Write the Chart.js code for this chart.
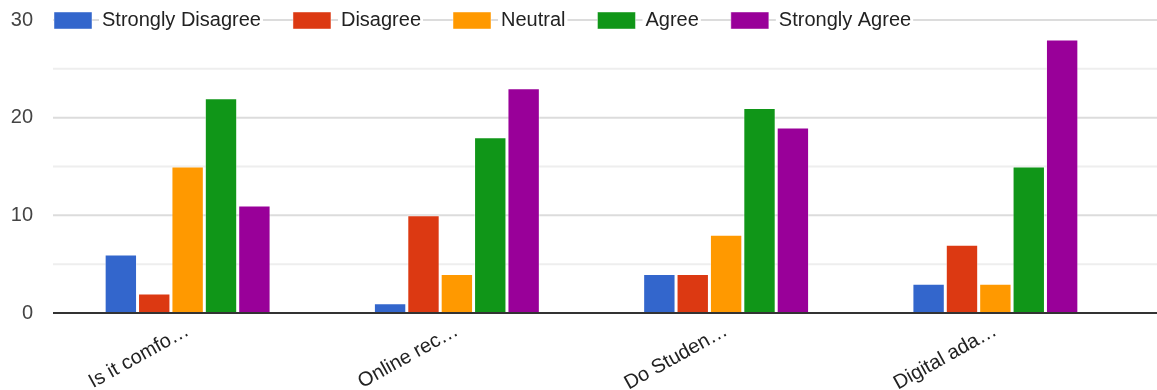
<!DOCTYPE html>
<html>
<head>
<meta charset="utf-8">
<script src="https://cdn.jsdelivr.net/npm/chart.js@4"></script>
<style>
  html, body { margin: 0; padding: 0; background: #fff; }
  #wrap { position: relative; width: 1157px; height: 390px; }
</style>
</head>
<body>
<div id="wrap"><canvas id="survey"></canvas></div>
<script>
// Survey responses per question (truncated question labels)
const questions = ['Is it comfo\u2026', 'Online rec\u2026', 'Do Studen\u2026', 'Digital ada\u2026'];

const stronglyDisagree = [6, 1, 4, 3];
const disagree         = [2, 10, 4, 7];
const neutral          = [15, 4, 8, 3];
const agree            = [22, 18, 21, 15];
const stronglyAgree    = [11, 23, 19, 28];

const seriesNames  = ['Strongly Disagree', 'Disagree', 'Neutral', 'Agree', 'Strongly Agree'];
const seriesColors = ['#3366cc', '#dc3912', '#ff9900', '#109618', '#990099'];

const yTicks = [0, 10, 20, 30];

const FONT = 'Arial, "Liberation Sans", sans-serif';

// Horizontal grid spanning the full canvas width, drawn from the y scale,
// plus white patches behind legend text so the top line stops around it.
const gridAndLegendBg = {
  id: 'gridAndLegendBg',
  afterLayout(chart) {
    const lg = chart.legend;
    if (lg) {
      lg.left = 22;
      lg.top = chart.chartArea.top - 41.5;
      lg.height = 90;
      lg.bottom = lg.top + lg.height;
      lg.right = chart.width;
      lg.width = lg.right - lg.left;
    }
  },
  beforeDraw(chart) {
    const ctx = chart.ctx;
    const y = chart.scales.y;
    const left = chart.chartArea.left;
    const right = chart.width;
    ctx.save();
    ctx.lineWidth = 2;
    y.ticks.forEach(t => {
      if (t.value === 0) return;
      const py = y.getPixelForValue(t.value);
      ctx.strokeStyle = (t.value % 10 === 0) ? '#dcdcdc' : '#eeeeee';
      ctx.beginPath();
      ctx.moveTo(left, py);
      ctx.lineTo(right, py);
      ctx.stroke();
    });
    const lg = chart.legend;
    if (lg && lg.legendHitBoxes) {
      const bw = lg.options.labels.boxWidth;
      ctx.fillStyle = '#ffffff';
      lg.legendHitBoxes.forEach(hb => {
        ctx.fillRect(hb.left + bw + 7, hb.top - 1, hb.width - bw - 5, hb.height + 2);
      });
    }
    ctx.restore();
  },
  afterDatasetsDraw(chart) {
    const ctx = chart.ctx;
    const y = chart.scales.y;
    const py = y.getPixelForValue(0);
    ctx.save();
    ctx.strokeStyle = '#333333';
    ctx.lineWidth = 2;
    ctx.beginPath();
    ctx.moveTo(chart.chartArea.left, py);
    ctx.lineTo(chart.width, py);
    ctx.stroke();
    ctx.restore();
  }
};

const values = [stronglyDisagree, disagree, neutral, agree, stronglyAgree];

new Chart(document.getElementById('survey'), {
  type: 'bar',
  data: {
    labels: questions,
    datasets: seriesNames.map((name, i) => ({
      label: name,
      data: values[i],
      backgroundColor: seriesColors[i],
      borderColor: 'rgba(255,255,255,0.45)',
      borderWidth: 1,
      categoryPercentage: 0.62,
      barPercentage: 0.97
    }))
  },
  options: {
    responsive: true,
    maintainAspectRatio: false,
    animation: false,
    layout: { padding: { top: 19, right: 27, bottom: 0, left: 0 } },
    plugins: {
      tooltip: { enabled: false },
      legend: {
        position: 'top',
        align: 'start',
        maxHeight: 1,
        labels: {
          boxWidth: 38,
          boxHeight: 17,
          padding: 32,
          color: '#222222',
          font: { family: FONT, size: 20 }
        }
      }
    },
    scales: {
      x: {
        grid: { display: false },
        border: { display: false },
        ticks: {
          color: '#222222',
          font: { family: FONT, size: 20 },
          minRotation: 29,
          maxRotation: 29,
          autoSkip: false,
          padding: -2
        },
        afterFit(scale) {
          scale.height = 77;
          scale.paddingLeft = 0;
          scale.paddingRight = 0;
        }
      },
      y: {
        min: 0,
        max: 30,
        grid: { display: false, drawTicks: false },
        border: { display: false },
        ticks: {
          stepSize: 5,
          padding: 20,
          color: '#444444',
          font: { family: FONT, size: 20 },
          callback: (v) => yTicks.includes(v) ? String(v) : ''
        },
        afterFit(scale) {
          scale.width = 53;
          scale.paddingTop = 0;
          scale.paddingBottom = 0;
        }
      }
    }
  },
  plugins: [gridAndLegendBg]
});
</script>
</body>
</html>
